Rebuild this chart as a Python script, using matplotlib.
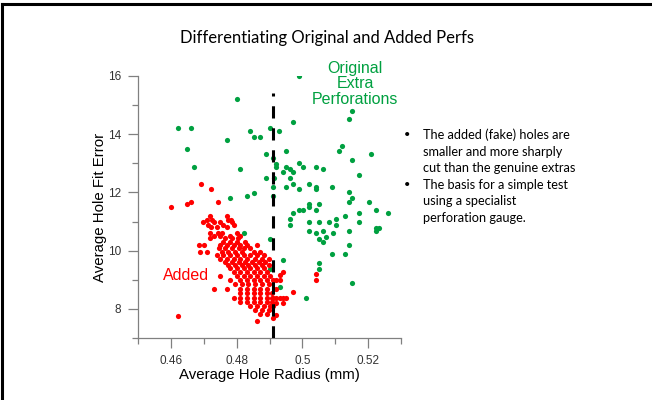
import matplotlib
matplotlib.use("Agg")
import matplotlib.pyplot as plt
from matplotlib.lines import Line2D

# ---- data ----
# added (fake) perfs, red
added_x = [0.4691, 0.4722, 0.4601, 0.4650, 0.4661, 0.4742, 0.4621, 0.4862,
           0.4720, 0.4772,
           0.4709, 0.4725, 0.4775, 0.4782,
           0.4699, 0.4732, 0.4750, 0.4786,
           0.4714, 0.4760, 0.4791,
           0.4722, 0.4740, 0.4772,
           0.4720, 0.4742, 0.4755, 0.4801,
           0.4732, 0.4750, 0.4780, 0.4811,
           0.4720, 0.4765, 0.4786, 0.4803,
           0.4760, 0.4780, 0.4801, 0.4826,
           0.4684, 0.4701, 0.4750, 0.4770, 0.4791, 0.4811, 0.4831, 0.4862,
           0.4745, 0.4765, 0.4786, 0.4806, 0.4821, 0.4842,
           0.4689, 0.4709, 0.4755, 0.4775, 0.4796, 0.4816, 0.4852, 0.4872,
           0.4740, 0.4760, 0.4780, 0.4801, 0.4821, 0.4842, 0.4862, 0.4882,
           0.4750, 0.4770, 0.4791, 0.4811, 0.4831, 0.4857, 0.4877, 0.4897,
           0.4765, 0.4786, 0.4806, 0.4826, 0.4847, 0.4867, 0.4887,
           0.4775, 0.4796, 0.4816, 0.4836, 0.4857, 0.4877, 0.4897,
           0.4780, 0.4801, 0.4821, 0.4842, 0.4862, 0.4882,
           0.4791, 0.4811, 0.4831, 0.4852, 0.4872, 0.4892,
           0.4750, 0.4801, 0.4821, 0.4842, 0.4862, 0.4882, 0.4903,
           0.4780, 0.4811, 0.4831, 0.4852, 0.4872, 0.4892,
           0.4796, 0.4816, 0.4836, 0.4857, 0.4877, 0.4897,
           0.4730, 0.4770, 0.4811, 0.4831, 0.4852, 0.4872, 0.4892,
           0.4811, 0.4831, 0.4852, 0.4872, 0.4892, 0.4907,
           0.4791, 0.4811, 0.4831, 0.4852, 0.4872, 0.4892, 0.4907,
           0.4811, 0.4831, 0.4852, 0.4872, 0.4892, 0.4907,
           0.4842, 0.4862, 0.4882, 0.4903,
           0.4857, 0.4877, 0.4897,
           0.4872, 0.4892,
           0.5042, 0.5042, 0.4970, 0.4941, 0.4931, 0.4921, 0.4931, 0.4911,
           0.4921, 0.4911, 0.4921, 0.4931, 0.4941, 0.4951, 0.4921, 0.4911,
           0.4941, 0.4921, 0.4911]
added_y = [12.29, 12.11, 11.49, 11.59, 11.68, 11.68, 7.76, 7.58,
           11.19, 11.19,
           11.07, 11.07, 11.07, 11.07,
           10.98, 10.98, 10.98, 10.98,
           10.89, 10.89, 10.89,
           10.80, 10.80, 10.80,
           10.62, 10.62, 10.62, 10.62,
           10.52, 10.52, 10.52, 10.52,
           10.42, 10.42, 10.42, 10.42,
           10.31, 10.31, 10.31, 10.31,
           10.19, 10.19, 10.19, 10.19, 10.19, 10.19, 10.19, 10.19,
           10.08, 10.08, 10.08, 10.08, 10.08, 10.08,
           9.96, 9.96, 9.96, 9.96, 9.96, 9.96, 9.96, 9.96,
           9.85, 9.85, 9.85, 9.85, 9.85, 9.85, 9.85, 9.85,
           9.73, 9.73, 9.73, 9.73, 9.73, 9.73, 9.73, 9.73,
           9.62, 9.62, 9.62, 9.62, 9.62, 9.62, 9.62,
           9.50, 9.50, 9.50, 9.50, 9.50, 9.50, 9.50,
           9.39, 9.39, 9.39, 9.39, 9.39, 9.39,
           9.28, 9.28, 9.28, 9.28, 9.28, 9.28,
           9.13, 9.13, 9.13, 9.13, 9.13, 9.13, 9.13,
           8.99, 8.99, 8.99, 8.99, 8.99, 8.99,
           8.85, 8.85, 8.85, 8.85, 8.85, 8.85,
           8.70, 8.70, 8.70, 8.70, 8.70, 8.70, 8.70,
           8.55, 8.55, 8.55, 8.55, 8.55, 8.55,
           8.39, 8.39, 8.39, 8.39, 8.39, 8.39, 8.39,
           8.24, 8.24, 8.24, 8.24, 8.24, 8.24,
           8.10, 8.10, 8.10, 8.10,
           7.96, 7.96, 7.96,
           7.82, 7.82,
           9.19, 8.99, 8.59, 9.28, 9.16, 8.99, 8.99, 8.99,
           8.67, 8.38, 8.38, 8.38, 8.38, 8.38, 8.19, 8.10,
           8.19, 7.79, 7.67]

# original extra perfs, green
orig_x = [0.4801, 0.4621, 0.4661, 0.4770, 0.4841, 0.4852, 0.4870, 0.4900,
          0.4929, 0.4650, 0.4890, 0.4911, 0.4921, 0.4921, 0.4671, 0.4811,
          0.4890, 0.4913, 0.4780, 0.4831, 0.4852,
          0.4991, 0.5151, 0.5141, 0.4970, 0.4951, 0.5121, 0.5111, 0.5210,
          0.5151, 0.4951, 0.4961, 0.4972, 0.4941, 0.4991, 0.5001, 0.5042,
          0.5062, 0.5172, 0.4961, 0.4951, 0.4972, 0.4911, 0.4991, 0.5021,
          0.5042, 0.5042, 0.5090, 0.5141, 0.5151,
          0.4911, 0.5141, 0.5202, 0.5021, 0.5021, 0.5052, 0.4991, 0.5001,
          0.5042, 0.4970, 0.5172, 0.5223, 0.5261, 0.5131, 0.4961, 0.4961,
          0.5101, 0.5021, 0.5052, 0.5082, 0.5101, 0.5172, 0.5223, 0.5233,
          0.5223, 0.5021, 0.5042, 0.5062, 0.5092, 0.5141, 0.5072, 0.5052,
          0.5062, 0.4902, 0.5141, 0.5090, 0.5131, 0.4941, 0.5052, 0.5052,
          0.5151, 0.5011, 0.4931, 0.4821, 0.4902]
orig_y = [15.21, 14.20, 14.20, 13.80, 14.11, 13.90, 13.90, 14.20,
          14.11, 13.50, 13.31, 13.19, 12.98, 12.88, 12.88, 12.80,
          12.49, 12.49, 11.82, 11.89, 11.99,
          16.00, 14.81, 14.51, 14.41, 13.42, 13.60, 13.42, 13.31,
          13.11, 12.88, 12.80, 12.71, 12.71, 13.00, 12.88, 12.88,
          12.80, 12.60, 12.51, 12.20, 12.29, 12.20, 12.11, 12.29,
          12.20, 12.11, 12.20, 12.00, 11.82,
          11.89, 11.68, 11.68, 11.59, 11.49, 11.59, 11.40, 11.40,
          11.40, 11.28, 11.30, 11.40, 11.30, 11.19, 11.09, 10.89,
          11.09, 10.99, 10.99, 10.99, 10.89, 10.99, 10.79, 10.79,
          10.68, 10.68, 10.59, 10.68, 10.59, 10.68, 10.48, 10.39,
          10.29, 10.39, 10.19, 9.88, 9.88, 9.68, 9.59, 9.38,
          8.88, 8.38, 8.76, 10.59, 9.36]

cutoff = 0.491
x_ticks = [0.46, 0.48, 0.50, 0.52]
x_tick_labels = ["0.46", "0.48", "0.5", "0.52"]
y_ticks = [8, 10, 12, 14, 16]

bullets = [["The added (fake) holes are", "smaller and more sharply",
            "cut than the genuine extras"],
           ["The basis for a simple test", "using a specialist",
            "perforation gauge."]]

red = "#ff0000"
green = "#00a040"
axis_grey = "#808080"

fig = plt.figure(figsize=(6.52, 4.0), dpi=100)
ax = fig.add_axes([0.2117, 0.155, 0.4033, 0.655])

ax.scatter(orig_x, orig_y, s=14, color=green, linewidths=0, zorder=3)
ax.scatter(added_x, added_y, s=14, color=red, linewidths=0, zorder=3)
ax.plot([cutoff, cutoff], [7.0, 15.4], color="black", lw=2.2,
        dashes=(4, 3.2), zorder=4)

ax.set_xlim(0.45, 0.53)
ax.set_ylim(7, 16)
ax.set_xticks(x_ticks)
ax.set_xticklabels(x_tick_labels)
ax.set_xticks([0.45, 0.47, 0.49, 0.51, 0.53], minor=True)
ax.set_yticks(y_ticks)
ax.set_yticks([7, 9, 11, 13, 15], minor=True)
for s in ["top", "right"]:
    ax.spines[s].set_visible(False)
for s in ["left", "bottom"]:
    ax.spines[s].set_color(axis_grey)
    ax.spines[s].set_linewidth(0.9)
ax.tick_params(which="both", direction="out", color=axis_grey, width=0.9,
               labelsize=8.5, labelcolor="#333333", pad=5,
               labelfontfamily="Liberation Sans")
ax.tick_params(which="major", length=7)
ax.tick_params(which="minor", length=4)

ax.set_xlabel("Average Hole Radius (mm)", fontsize=10.8,
              family="Liberation Sans", labelpad=1)
ax.set_ylabel("Average Hole Fit Error", fontsize=10.8,
              family="Liberation Sans", labelpad=1)

ax.text(0.4646, 9.13, "Added", color=red, fontsize=11.5,
        family="Liberation Sans", ha="center", va="center")
fig.text(0.545, 0.79, "Original\nExtra\nPerforations", color=green,
         fontsize=11.5, family="Liberation Sans", ha="center", va="center",
         linespacing=1.0)

fig.text(0.502, 0.905, "Differentiating Original and Added Perfs",
         fontsize=12, family="Lato", ha="center", va="center")

# bullet block, one text per line
line_y = 1 - 135 / 400
step = 16.5 / 400
for block in bullets:
    fig.text(0.619, line_y, "\u2022", fontsize=8, family="Lato", va="center")
    for line in block:
        fig.text(0.649, line_y, line, fontsize=9.2, family="Lato", va="center")
        line_y -= step

# slide frame on top and left
fig.add_artist(Line2D([0.003, 0.003], [0.0, 0.99], color="black", lw=2.2))
fig.add_artist(Line2D([0.003, 1.0], [0.99, 0.99], color="black", lw=2.2))

fig.savefig("out.png", dpi=100, facecolor="white")
